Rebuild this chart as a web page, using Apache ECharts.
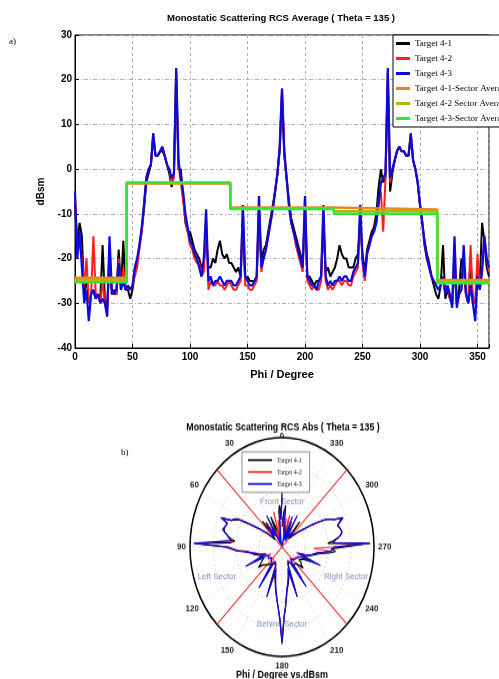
<!DOCTYPE html>
<html>
<head>
<meta charset="utf-8">
<script src="https://cdn.jsdelivr.net/npm/echarts@6/dist/echarts.min.js"></script>
<style>
  html, body { margin: 0; padding: 0; background: #fff; }
  #page { position: relative; width: 499px; height: 679px; overflow: hidden; }
  #lineChart { position: absolute; left: 0; top: 0; width: 499px; height: 679px; }
  /* the polar plot in the reference is stretched vertically */
  #polarChart { position: absolute; left: 0; top: 440px; width: 499px; height: 220px;
    transform-origin: 282px 107px; transform: scaleY(1.19); }
</style>
</head>
<body>
<div id="page">
  <div id="lineChart"></div>
  <div id="polarChart"></div>
</div>
<script>
// sampled every 2 degrees of phi, 0..360 (dBsm)
const PHI_STEP = 2
const rcs41 = [
  -8, -17, -12, -15, -28, -24, -30, -28, -27, -29,
  -28, -29, -17, -29, -31, -20, -28, -27, -28, -18,
  -27, -16, -27, -27, -29, -27, -23, -21, -17, -14,
  -9, -3, -1, 1, 7, 3, 3, 4, 4, 3,
  1, -1, -4, -1, 21, 0, 0, -6, -12, -14,
  -14, -16, -18, -19, -20, -22, -21, -15, -22, -22,
  -20, -21, -18, -16, -19, -20, -19, -21, -21, -22,
  -23, -22, -24, -12, -25, -24, -25, -25, -25, -24,
  -10, -21, -18, -17, -14, -11, -8, -5, -1, 4,
  17, 3, -2, -7, -11, -13, -15, -17, -19, -21,
  -10, -24, -24, -25, -26, -25, -25, -24, -12, -23,
  -22, -24, -23, -22, -20, -17, -19, -20, -20, -22,
  -22, -22, -20, -19, -12, -19, -23, -18, -16, -14,
  -13, -10, -4, 0, -3, -2, 20, -5, -1, 2,
  4, 5, 4, 4, 3, 3, 7, 2, 0, -3,
  -8, -12, -16, -19, -21, -24, -26, -28, -29, -26,
  -17, -29, -27, -29, -30, -22, -30, -27, -20, -22,
  -28, -30, -20, -30, -30, -22, -25, -12, -16, -22,
  -24
]
const rcs42 = [
  -6, -18, -16, -20, -26, -20, -30, -28, -15, -28,
  -28, -30, -25, -30, -32, -17, -27, -28, -28, -20,
  -27, -22, -27, -26, -27, -26, -24, -22, -18, -14,
  -8, -2, 0, 1, 8, 3, 3, 4, 5, 3,
  1, 0, -3, -2, 22, 1, -3, -7, -11, -14,
  -17, -18, -20, -21, -21, -24, -23, -11, -27, -25,
  -26, -26, -25, -26, -26, -27, -26, -25, -26, -27,
  -27, -26, -25, -9, -26, -26, -27, -27, -26, -25,
  -6, -23, -20, -18, -15, -12, -9, -5, -1, 5,
  18, 4, -2, -8, -12, -14, -17, -19, -21, -23,
  -6, -25, -26, -27, -26, -27, -27, -25, -10, -25,
  -27, -26, -27, -26, -25, -25, -26, -25, -25, -26,
  -26, -24, -23, -22, -10, -21, -25, -19, -17, -15,
  -14, -12, -7, -5, -14, -2, 22, -3, 0, 2,
  4, 5, 4, 4, 3, 3, 8, 2, 0, -3,
  -8, -12, -17, -20, -22, -24, -25, -26, -27, -26,
  -24, -28, -26, -29, -30, -17, -30, -28, -27, -20,
  -28, -29, -17, -30, -30, -19, -27, -22, -15, -20,
  -23
]
const rcs43 = [
  -5, -20, -14, -22, -30, -27, -34, -28, -27, -29,
  -28, -30, -29, -30, -33, -15, -27, -28, -27, -21,
  -27, -25, -27, -26, -27, -26, -22, -20, -17, -13,
  -8, -2, 0, 1, 8, 3, 3, 4, 5, 3,
  1, 0, -2, -1, 22.6, 2, -2, -5, -10, -13,
  -16, -17, -19, -20, -22, -24, -20, -9, -25, -24,
  -26, -25, -25, -24, -25, -26, -25, -25, -25, -26,
  -26, -25, -24, -8, -24, -25, -26, -26, -25, -24,
  -6, -22, -20, -18, -15, -12, -9, -5, -1, 5,
  18, 4, -2, -8, -12, -14, -16, -18, -20, -22,
  -6, -24, -25, -26, -26, -27, -25, -24, -8, -24,
  -26, -25, -26, -25, -25, -24, -25, -24, -24, -25,
  -25, -23, -22, -21, -8, -20, -24, -19, -17, -15,
  -14, -12, -8, -3, -2, -1, 22.6, -2, 0, 2,
  4, 5, 4, 4, 3, 3, 8, 2, 0, -3,
  -8, -12, -17, -20, -22, -24, -25, -26, -27, -26,
  -24, -28, -26, -28, -31, -15, -31, -28, -27, -17,
  -28, -30, -26, -30, -34, -24, -27, -23, -15, -20,
  -22
]
// sector averages
const sectorEdges = [0, 45, 135, 225, 315, 360]
const avg41 = [-24.3, -3.2, -8.6, -9.0, -24.8]
const avg42 = [-24.8, -3.1, -8.8, -9.4, -25.2]
const avg43 = [-25.3, -3.0, -8.9, -10.0, -25.5]
// polar sector boundaries (drawn a bit past the rim)
const boundaryLines = [[45, 225], [135, 315]]
const boundaryReach = 35

const targetNames = ['Target 4-1', 'Target 4-2', 'Target 4-3']
const avgNames = ['Target 4-1-Sector Average', 'Target 4-2 Sector Average', 'Target 4-3-Sector Average']
const targetColors = ['#000000', '#ff1f1f', '#0a0ae0']
const avgColors = ['#e0892c', '#b9b300', '#33e633']

const phi = rcs43.map((_, i) => i * PHI_STEP)
const rcsList = [rcs41, rcs42, rcs43]
const avgList = [avg41, avg42, avg43]

const sansBold = { fontFamily: "'Liberation Sans Narrow', 'Liberation Sans', Arial, sans-serif", fontWeight: 'bold', color: '#000' }

const lineChart = echarts.init(document.getElementById('lineChart'))
lineChart.setOption({
  animation: false,
  title: {
    text: 'Monostatic Scattering RCS Average ( Theta = 135 )',
    left: 281, top: 13, padding: 0, textAlign: 'center',
    textStyle: { ...sansBold, fontSize: 9.5 }
  },
  grid: { left: 75, right: 10, top: 35, bottom: 331, show: true, borderColor: '#000', borderWidth: 1 },
  legend: {
    orient: 'vertical', left: 393, top: 35,
    data: targetNames.concat(avgNames),
    icon: 'rect', itemWidth: 14, itemHeight: 3, itemGap: 4,
    padding: [3, 30, 3, 3],
    backgroundColor: '#fff', borderColor: '#000', borderWidth: 1,
    textStyle: { fontFamily: "'Liberation Serif', serif", fontSize: 9, lineHeight: 11, color: '#000' }
  },
  xAxis: {
    type: 'value', min: 0, max: 360, interval: 50,
    name: 'Phi / Degree', nameLocation: 'middle', nameGap: 21,
    nameTextStyle: { ...sansBold, fontSize: 11 },
    axisLine: { onZero: false, lineStyle: { color: '#000' } },
    axisTick: { inside: true, length: 4, lineStyle: { color: '#000' } },
    axisLabel: { ...sansBold, fontSize: 10, margin: 4, formatter: v => (v === 360 ? '' : v) },
    splitLine: { show: true, lineStyle: { color: '#b0b0b0', type: [3, 3] } }
  },
  yAxis: {
    type: 'value', min: -40, max: 30, interval: 10,
    name: 'dBsm', nameLocation: 'middle', nameGap: 22,
    nameTextStyle: { ...sansBold, fontSize: 10 },
    axisLine: { show: true, onZero: false, lineStyle: { color: '#000' } },
    axisTick: { show: true, inside: true, length: 4, lineStyle: { color: '#000' } },
    axisLabel: { ...sansBold, fontSize: 10, margin: 3 },
    splitLine: { show: true, lineStyle: { color: '#b0b0b0', type: [4, 2, 1, 2] } }
  },
  graphic: [
    { type: 'text', left: 9, top: 37, style: { text: 'a)', font: "9px 'Liberation Serif', serif", fill: '#000' } },
    { type: 'text', left: 121, top: 448, style: { text: 'b)', font: "9px 'Liberation Serif', serif", fill: '#000' } }
  ],
  series: [
    ...rcsList.map((arr, k) => ({
      name: targetNames[k], type: 'line', showSymbol: false, symbol: 'none',
      data: arr.map((v, i) => [phi[i], v]),
      itemStyle: { color: targetColors[k] },
      lineStyle: { color: targetColors[k], width: k === 2 ? 2.2 : 2 }
    })),
    ...avgList.map((arr, k) => ({
      name: avgNames[k], type: 'line', step: 'end', showSymbol: false, symbol: 'none',
      data: sectorEdges.map((x, i) => [x, arr[Math.min(i, arr.length - 1)]]),
      itemStyle: { color: avgColors[k] },
      lineStyle: { color: avgColors[k], width: 2.5 }
    }))
  ]
})

const polarChart = echarts.init(document.getElementById('polarChart'))
const sectorText = (text, x, y) => ({
  type: 'text', x: x, y: y,
  style: { text: text, font: "8px 'Liberation Sans', Arial, sans-serif", fill: '#7e8fc2', align: 'center', verticalAlign: 'middle' }
})
polarChart.setOption({
  animation: false,
  title: {
    text: 'Monostatic Scattering RCS Abs ( Theta = 135 )',
    left: 283, top: 2.5, padding: 0, textAlign: 'center',
    textStyle: { ...sansBold, fontFamily: "'Liberation Sans', Arial, sans-serif", fontSize: 8.8 }
  },
  polar: { center: [282, 107], radius: 92 },
  angleAxis: {
    type: 'value', min: 0, max: 360, interval: 30, startAngle: 90, clockwise: false,
    axisLine: { lineStyle: { color: '#000', width: 1.5 } },
    axisTick: { show: false },
    // the 0 label sits on the rim in the reference, drawn below as text
    axisLabel: { ...sansBold, fontFamily: "'Liberation Sans', Arial, sans-serif", fontSize: 8, color: '#222', margin: 4,
      formatter: v => (v === 360 || v === 0 ? '' : v) },
    splitLine: { show: true, lineStyle: { color: '#d8d8d8', type: [1, 2] } }
  },
  radiusAxis: {
    type: 'value', min: -35, max: 25, interval: 15,
    axisLine: { show: false }, axisTick: { show: false }, axisLabel: { show: false },
    splitLine: { show: true, lineStyle: { color: '#d8d8d8', type: [2, 2] } }
  },
  legend: {
    orient: 'vertical', left: 242, top: 27,
    data: targetNames,
    icon: 'rect', itemWidth: 24, itemHeight: 1.5, itemGap: 2,
    padding: [3, 8, 3, 6],
    backgroundColor: '#fff', borderColor: '#777', borderWidth: 0.8,
    textStyle: { fontFamily: "'Liberation Serif', serif", fontSize: 6, lineHeight: 8, color: '#222' }
  },
  graphic: [
    { type: 'text', x: 282, y: 14, z: 10, style: { text: '0', font: "bold 8px 'Liberation Sans', Arial, sans-serif", fill: '#222', align: 'center', verticalAlign: 'middle' } },
    sectorText('Front Sector', 282, 69),
    sectorText('Left Sector', 217, 132),
    sectorText('Right Sector', 346, 132),
    sectorText('Behind Sector', 282, 172),
    { type: 'text', x: 282, y: 215, style: { text: 'Phi / Degree vs.dBsm', font: "bold 9px 'Liberation Sans', Arial, sans-serif", fill: '#000', align: 'center', verticalAlign: 'middle' } }
  ],
  series: [
    ...boundaryLines.map(pair => ({
      type: 'line', coordinateSystem: 'polar', silent: true, clip: false, symbol: 'none',
      data: pair.map(a => [boundaryReach, a]),
      lineStyle: { color: '#e83030', width: 1.1 }, z: 1
    })),
    ...rcsList.map((arr, k) => ({
      name: targetNames[k], type: 'line', coordinateSystem: 'polar', showSymbol: false, symbol: 'none',
      data: arr.map((v, i) => [v, phi[i]]),
      itemStyle: { color: targetColors[k] },
      lineStyle: { color: targetColors[k], width: k === 1 ? 0.9 : 1.2 }, z: 2
    }))
  ]
})
</script>
</body>
</html>
